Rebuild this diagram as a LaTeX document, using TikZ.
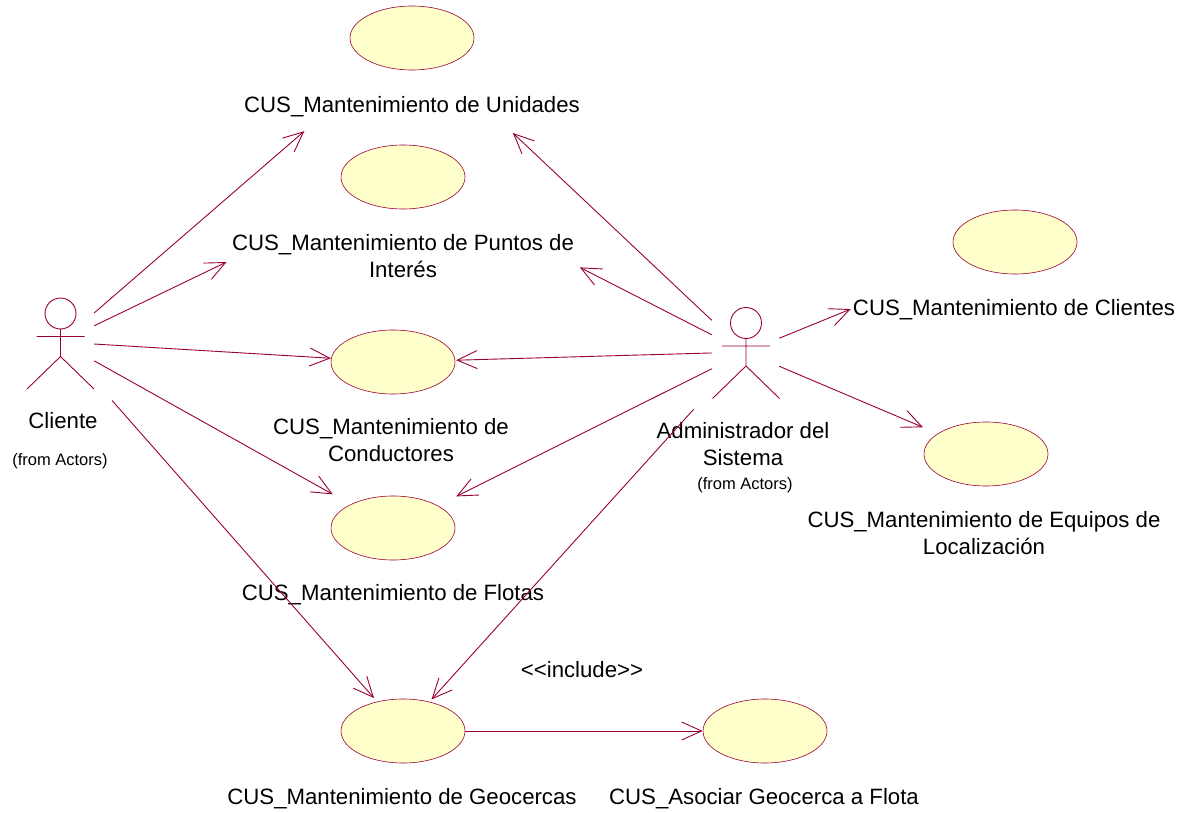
\documentclass[tikz,border=0pt]{standalone}
\usepackage{fontspec}
\setmainfont{Liberation Sans}
\usetikzlibrary{arrows.meta,shapes.geometric}
\definecolor{umlred}{RGB}{153,0,51}
\definecolor{umlfill}{RGB}{255,255,204}
\def\stickman{circle (15.5) +(0,15.5) -- +(0,43) +(-24,23) -- +(24,23) +(-33.5,75.5) -- +(0,43) -- +(33.5,75.5)}
\def\dactor{\draw[umlline]}
\tikzset{
  umlline/.style={draw=umlred,line width=0.9pt},
  umlarrow/.style={umlline,-{Straight Barb[length=20pt,width=18pt]}},
  usecase/.style={ellipse,draw=umlred,line width=0.6pt,fill=umlfill,minimum width=124pt,minimum height=64pt,inner sep=0pt},
  actorbox/.style={rectangle,minimum width=67pt,inner sep=0pt},
  caselabel/.style={font=\fontsize{22.2}{27}\selectfont,align=center,inner sep=0pt},
  fromlabel/.style={font=\fontsize{16.5}{18}\selectfont,inner sep=0pt}
}
\begin{document}
\begin{tikzpicture}[x=1pt,y=-1pt]
                \useasboundingbox (0,0) rectangle (1194,813);
                % use cases
                \node[usecase] (unidades) at (412,38) {};
                \node[usecase] (puntos) at (403,177) {};
                \node[usecase] (conductores) at (393,362) {};
                \node[usecase] (flotas) at (393,528) {};
                \node[usecase] (geocercas) at (403,731) {};
                \node[usecase] (asociar) at (765,731) {};
                \node[usecase] (clientes) at (1015,242) {};
                \node[usecase] (equipos) at (986,454) {};
                \node[caselabel] (unidadeslabel) at (412,107) {CUS\_Mantenimiento de Unidades};
                \node[caselabel] (puntoslabel) at (403,256) {CUS\_Mantenimiento de Puntos de\\Interés};
                \node[caselabel] (conductoreslabel) at (391,440) {CUS\_Mantenimiento de\\Conductores};
                \node[caselabel] (flotaslabel) at (393,595) {CUS\_Mantenimiento de Flotas};
                \node[caselabel] (geocercaslabel) at (402,799) {CUS\_Mantenimiento de Geocercas};
                \node[caselabel] (asociarlabel) at (764,799) {CUS\_Asociar Geocerca a Flota};
                \node[caselabel] (clienteslabel) at (1014,310) {CUS\_Mantenimiento de Clientes};
                \node[caselabel] (equiposlabel) at (984,533) {CUS\_Mantenimiento de Equipos de\\Localización};
                \node[caselabel] (includelabel) at (582,670) {<{}<include>{}>};
                % actors
                \node[actorbox,minimum height=118pt] (cliente) at (60.5,342) {};
                \node[actorbox,minimum height=116pt] (admin) at (745.5,352) {};
                \dactor (60.5,313.5) \stickman;
                \dactor (746,323) \stickman;
                \node[caselabel] (clientelabel) at (63,421) {Cliente};
                \node[fromlabel] (clientefrom) at (60,461) {(from Actors)};
                \node[caselabel] (adminlabel) at (743,444) {Administrador del\\Sistema};
                \node[fromlabel] (adminfrom) at (745,485) {(from Actors)};
                % connectors
                \draw[umlarrow,shorten >=142.4pt] (cliente) -- (unidades.center);
                \draw[umlarrow,shorten >=195.9pt] (cliente) -- (puntos.center);
                \draw[umlarrow,shorten >=62.3pt] (cliente) -- (conductores.center);
                \draw[umlarrow,shorten >=69pt] (cliente) -- (flotas.center);
                \draw[umlarrow,shorten <=27pt,shorten >=43.9pt] (cliente) -- (geocercas.center);
                \draw[umlarrow,shorten >=138.6pt] (admin) -- (unidades.center);
                \draw[umlarrow,shorten >=198.6pt] (admin) -- (puntos.center);
                \draw[umlarrow,shorten >=63.1pt] (admin) -- (conductores.center);
                \draw[umlarrow,shorten >=70.7pt] (admin) -- (flotas.center);
                \draw[umlarrow,shorten <=27pt,shorten >=42.5pt] (admin) -- (geocercas.center);
                \draw[umlarrow,shorten >=177.5pt] (admin) -- (clientes.center);
                \draw[umlarrow,shorten >=68.5pt] (admin) -- (equipos.center);
                \draw[umlarrow] (geocercas) -- (asociar);
            \end{tikzpicture}
\end{document}
